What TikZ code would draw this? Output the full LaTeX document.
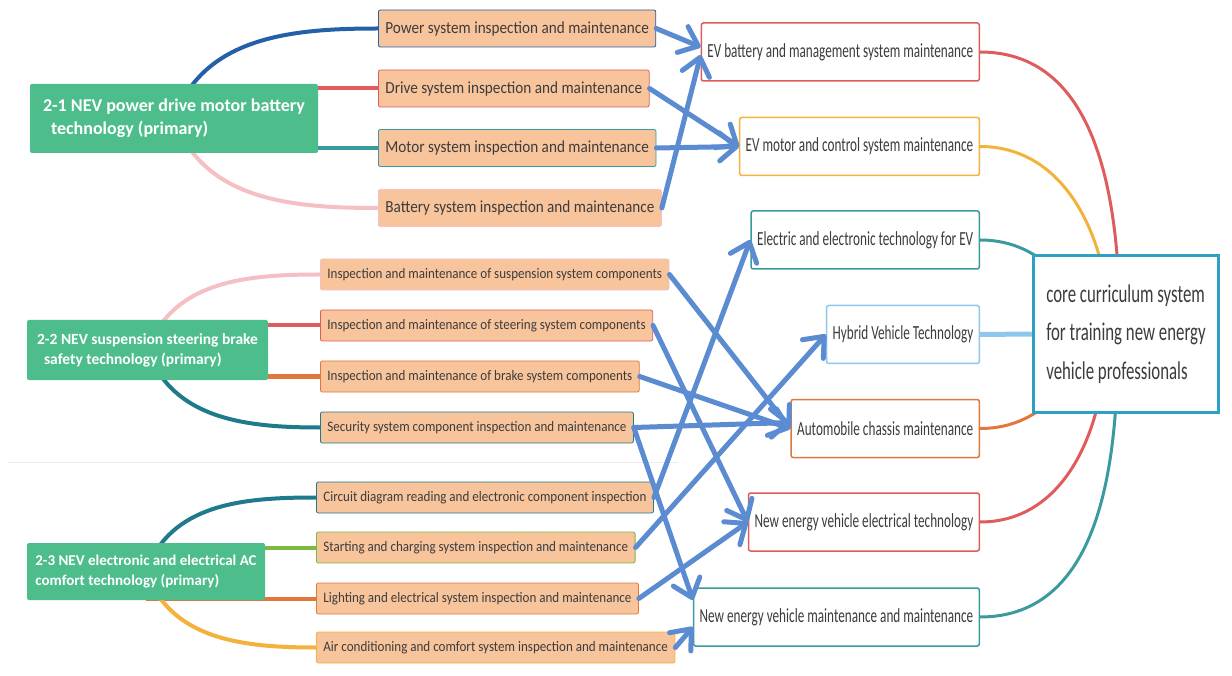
\documentclass[tikz,border=0pt]{standalone}
\usepackage{fontspec}
\setmainfont{Carlito}
\newfontfamily\boxfont[FakeStretch=0.9]{Carlito}
\newfontfamily\narrowfont[FakeStretch=0.66]{Carlito}
\usetikzlibrary{arrows.meta,backgrounds}
\definecolor{topicgreen}{HTML}{4DBE8B}
\definecolor{itemfill}{HTML}{F8C49C}
\definecolor{flowblue}{HTML}{5B8BD0}
\definecolor{navy}{HTML}{2360A8}
\definecolor{rosered}{HTML}{E05C5C}
\definecolor{sea}{HTML}{3A9A9E}
\definecolor{blush}{HTML}{F5BFC4}
\definecolor{rust}{HTML}{E2773A}
\definecolor{petrol}{HTML}{1F7A8C}
\definecolor{leaf}{HTML}{7DB843}
\definecolor{amber}{HTML}{F3B23C}
\definecolor{sky}{HTML}{8EC6EC}
\definecolor{hubblue}{HTML}{2EA0C2}
\definecolor{ink}{HTML}{3C3C3C}
\begin{document}
\begin{tikzpicture}[x=1pt, y=1pt,
    topic/.style={fill=topicgreen, rounded corners=2pt, text=white, align=left, inner sep=0pt},
    item/.style={draw=#1, fill=itemfill, rounded corners=2pt, anchor=west, inner xsep=7pt, inner ysep=0pt, line width=0.8pt, text=ink},
    bigitem/.style={item=#1, minimum height=37pt, font=\boxfont\fontsize{16.9}{20}\selectfont},
    smallitem/.style={item=#1, minimum height=31pt, font=\boxfont\fontsize{14.5}{17}\selectfont},
    course/.style={draw=#1, fill=white, rounded corners=2pt, anchor=east, inner xsep=6pt, minimum height=58pt, line width=1.5pt, text=ink, font=\narrowfont\fontsize{20}{24}\selectfont},
    branch/.style={draw=#1, line width=4pt},
    link/.style={draw=#1, line width=3pt},
    flow/.style={flowblue, line width=5pt, line cap=round, -{Straight Barb[length=17pt, width=28pt, round]}}]
    \useasboundingbox (0,0) rectangle (1232,-676);

    \node (g1) [topic, minimum width=288pt, minimum height=69pt, font=\bfseries\fontsize{18}{23}\selectfont] at (174,-118.5) {2-1 NEV power drive motor battery\\\hspace{8pt}technology (primary)};
    \node (g2) [topic, minimum width=241pt, minimum height=60pt, font=\bfseries\fontsize{15.5}{20}\selectfont] at (147.5,-350) {2-2 NEV suspension steering brake\\\hspace{7pt}safety technology (primary)};
    \node (g3) [topic, minimum width=238pt, minimum height=57pt, font=\bfseries\fontsize{15}{20}\selectfont] at (146,-571.5) {2-3 NEV electronic and electrical AC\\comfort technology (primary)};

    \node (o1) [bigitem=navy] at (378,-28.5) {Power system inspection and maintenance};
    \node (o2) [bigitem=rosered] at (378,-88.5) {Drive system inspection and maintenance};
    \node (o3) [bigitem=sea] at (378,-148) {Motor system inspection and maintenance};
    \node (o4) [bigitem=blush] at (378,-208) {Battery system inspection and maintenance};
    \node (o5) [smallitem=blush] at (320,-274.5) {Inspection and maintenance of suspension system components};
    \node (o6) [smallitem=rosered] at (320,-325.5) {Inspection and maintenance of steering system components};
    \node (o7) [smallitem=rust] at (320,-376.5) {Inspection and maintenance of brake system components};
    \node (o8) [smallitem=petrol] at (320,-427.5) {Security system component inspection and maintenance};
    \node (o9) [smallitem=petrol] at (316,-497.5) {Circuit diagram reading and electronic component inspection};
    \node (o10) [smallitem=leaf] at (316,-547.5) {Starting and charging system inspection and maintenance};
    \node (o11) [smallitem=rust] at (316,-598.5) {Lighting and electrical system inspection and maintenance};
    \node (o12) [smallitem=amber] at (316,-647.5) {Air conditioning and comfort system inspection and maintenance};

    \node (r1) [course=rosered] at (980,-52) {EV battery and management system maintenance};
    \node (r2) [course=amber] at (980,-146.5) {EV motor and control system maintenance};
    \node (r3) [course=sea] at (980,-240) {Electric and electronic technology for EV};
    \node (r4) [course=sky] at (980,-334.5) {Hybrid Vehicle Technology};
    \node (r5) [course=rust] at (980,-428.5) {Automobile chassis maintenance};
    \node (r6) [course=rosered] at (980,-522) {New energy vehicle electrical technology};
    \node (r7) [course=sea] at (980,-617) {New energy vehicle maintenance and maintenance};

    \node (core) [draw=hubblue, line width=3.5pt, fill=white, minimum width=185pt, minimum height=157pt, align=left, text=ink, font=\narrowfont\fontsize{25.5}{38.5}\selectfont] at (1126,-334) {core curriculum system\\for training new energy\\vehicle professionals};

    \draw [gray!15, line width=0.8pt] (8,-462) -- (678,-462);

    \begin{pgfonlayer}{background}
        \draw [branch=navy] (g1.center) to[out=70, in=180] (o1.west);
        \draw [branch=rosered] (g1.center |- o2.west) -- (o2.west);
        \draw [branch=sea] (g1.center |- o3.west) -- (o3.west);
        \draw [branch=blush] (g1.center) to[out=-70, in=180] (o4.west);
        \draw [branch=blush] (g2.center) to[out=70, in=180] (o5.west);
        \draw [branch=rosered] (g2.center |- o6.west) -- (o6.west);
        \draw [branch=rust] (g2.center |- o7.west) -- (o7.west);
        \draw [branch=petrol] (g2.center) to[out=-70, in=180] (o8.west);
        \draw [branch=petrol] (g3.center) to[out=70, in=180] (o9.west);
        \draw [branch=leaf] (g3.center |- o10.west) -- (o10.west);
        \draw [branch=rust] (g3.center |- o11.west) -- (o11.west);
        \draw [branch=amber] (g3.center) to[out=-70, in=180] (o12.west);

        \draw [link=rosered] (r1.east) to[out=0, in=90] ([xshift=-6pt]core.center);
        \draw [link=amber] (r2.east) to[out=0, in=90] ([xshift=-16pt]core.center);
        \draw [link=sea] (r3.east) to[out=0, in=145] (core.center);
        \draw [link=sky, line width=5pt] (r4.east) -- (core.west);
        \draw [link=rust] (r5.east) to[out=0, in=215] (core.center);
        \draw [link=rosered] (r6.east) to[out=0, in=-90] ([xshift=-20pt]core.center);
        \draw [link=sea] (r7.east) to[out=0, in=-90] ([xshift=-8pt]core.center);
    \end{pgfonlayer}

    \draw [flow] (o1.east) -- ([yshift=5pt]r1.west);
    \draw [flow] (o4.east) -- ([yshift=-3pt]r1.west);
    \draw [flow] (o2.east) -- (r2.west);
    \draw [flow] (o3.east) -- (r2.west);
    \draw [flow] (o5.east) -- (r5.west);
    \draw [flow] (o7.east) -- (r5.west);
    \draw [flow] (o8.east) -- ([yshift=6pt]r5.west);
    \draw [flow] (o6.east) -- (r6.west);
    \draw [flow] (o11.east) -- (r6.west);
    \draw [flow] (o8.east) -- ([yshift=17pt]r7.west);
    \draw [flow] (o12.east) -- ([yshift=-10pt]r7.west);
    \draw [flow] (o9.east) -- (r3.west);
    \draw [flow] (o10.east) -- (r4.west);
\end{tikzpicture}
\end{document}
